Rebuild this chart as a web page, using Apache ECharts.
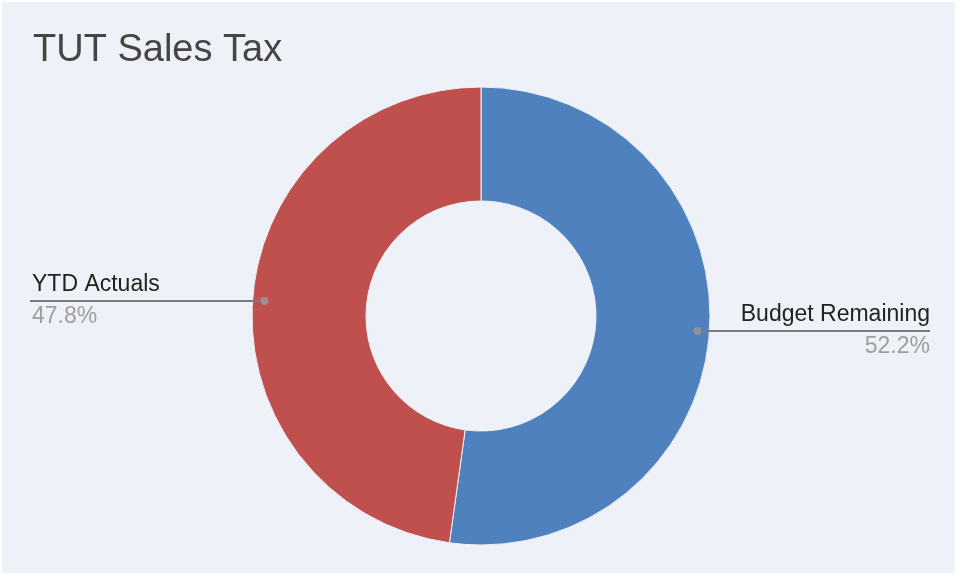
<!DOCTYPE html>
<html>
<head>
<meta charset="utf-8">
<script src="https://cdn.jsdelivr.net/npm/echarts@6/dist/echarts.min.js"></script>
<style>
  html, body { margin: 0; padding: 0; background: #ffffff; }
  #chart { position: absolute; left: 2px; top: 2px; width: 953px; height: 571px; background: #eef2f8; }
</style>
</head>
<body>
<div id="chart"></div>
<script>
// Budget split for the TUT sales tax line
const titleText = 'TUT Sales Tax';
const categories = ['Budget Remaining', 'YTD Actuals'];
const values = [52.2, 47.8];
const colors = ['#4e81bd', '#c0504e'];

const chart = echarts.init(document.getElementById('chart'));

const CENTER = [479, 314];
const OUTER = 229;
const INNER = 115;
const DOT_R = 217;
const LEFT_EDGE = 30;
const RIGHT_EDGE = 25;
const FONT = 'Liberation Sans, Arial, sans-serif';

const total = values.reduce((a, b) => a + b, 0);
// mid-angle (in percent of the circle) of each slice, for the label dots
let acc = 0;
const dotData = values.map(v => {
  const mid = (acc + v / 2) / total * 100;
  acc += v;
  return [DOT_R, mid];
});

const pieData = categories.map((name, i) => ({ name, value: values[i], itemStyle: { color: colors[i] } }));

chart.setOption({
  animation: false,
  title: {
    text: titleText,
    left: 26,
    top: 25,
    textStyle: { fontFamily: FONT, fontSize: 38, fontWeight: 'normal', color: '#454545' }
  },
  polar: { center: CENTER, radius: OUTER },
  radiusAxis: { min: 0, max: OUTER, show: false },
  angleAxis: { min: 0, max: 100, startAngle: 90, clockwise: true, show: false },
  series: [
    {
      type: 'pie',
      z: 1,
      center: CENTER,
      radius: [INNER, OUTER],
      startAngle: 90,
      clockwise: true,
      silent: true,
      itemStyle: { borderColor: '#eef2f8', borderWidth: 1 },
      label: { show: false },
      labelLine: { show: false },
      data: pieData
    },
    {
      // transparent disc carrying the callout labels, starting at the dots
      type: 'pie',
      z: 3,
      center: CENTER,
      radius: [0, DOT_R],
      startAngle: 90,
      clockwise: true,
      silent: true,
      percentPrecision: 1,
      itemStyle: { color: 'rgba(0,0,0,0)' },
      label: {
        show: true,
        position: 'outside',
        alignTo: 'edge',
        edgeDistance: RIGHT_EDGE,
        formatter: '{name|{b}}\n{pct|{d}%}',
        rich: {
          name: { fontFamily: FONT, fontSize: 23, color: '#222222', lineHeight: 32 },
          pct: { fontFamily: FONT, fontSize: 23, color: '#9e9e9e', lineHeight: 32 }
        }
      },
      labelLine: { show: true, length: 0, length2: 10, lineStyle: { color: '#7a7a7a', width: 2 } },
      labelLayout: function (params) {
        const W = chart.getWidth();
        const isLeft = params.labelRect.x < W / 2;
        // left labels anchor on their left side, right labels on their right side
        const x = isLeft ? LEFT_EDGE : W - RIGHT_EDGE;
        const pts = params.labelLinePoints;
        const y = pts[0][1];
        pts[1] = [pts[0][0], y];
        pts[2] = [isLeft ? x - 2 : x, y];
        return { x: x, labelLinePoints: pts };
      },
      data: categories.map((name, i) => ({ name, value: values[i] }))
    },
    {
      type: 'scatter',
      coordinateSystem: 'polar',
      symbolSize: 8,
      silent: true,
      itemStyle: { color: '#9a9a9a' },
      data: dotData,
      z: 5
    }
  ]
});
</script>
</body>
</html>
